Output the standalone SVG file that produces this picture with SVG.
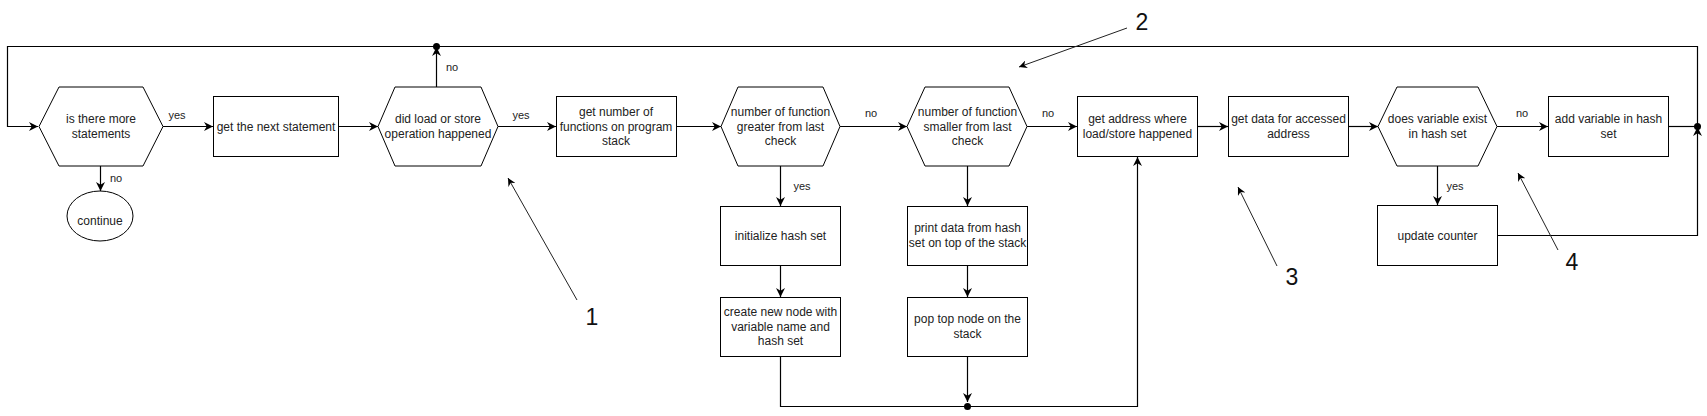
<svg xmlns="http://www.w3.org/2000/svg" width="1707" height="416" viewBox="0 0 1707 416">
<style>
.n{fill:#fff;stroke:#000;stroke-width:1}
.t{font-family:"Liberation Sans",Arial,sans-serif;font-size:12px;fill:#222;text-anchor:middle}
.l{font-family:"Liberation Sans",Arial,sans-serif;font-size:11px;fill:#222;text-anchor:middle}
.num{font-family:"Liberation Sans",Arial,sans-serif;font-size:23px;fill:#111;text-anchor:middle}
.c{fill:none;stroke:#000;stroke-width:1.2}
.a{fill:none;stroke:#222;stroke-width:1}
.d{fill:#000}
</style>
<defs>
<marker id="arr" viewBox="0 0 10 10" refX="10" refY="5" markerWidth="9" markerHeight="9" markerUnits="userSpaceOnUse" orient="auto">
<path d="M0,0 L10,5 L0,10 L3,5 z" fill="#000"/>
</marker>
<marker id="arrS" viewBox="0 0 10 10" refX="10" refY="5" markerWidth="8" markerHeight="8" markerUnits="userSpaceOnUse" orient="auto">
<path d="M0,0 L10,5 L0,10 L3,5 z" fill="#000"/>
</marker>
</defs>
<rect width="1707" height="416" fill="#fff"/>

<g id="connectors">
<polyline class="c" points="1697.5,126.5 1697.5,46.5 7.5,46.5 7.5,126.5 38,126.5" marker-end="url(#arr)"/>
<line class="c" x1="436.5" y1="87" x2="436.5" y2="47" marker-end="url(#arr)"/>
<circle class="d" cx="436.5" cy="46.5" r="3.5"/>
<line class="c" x1="163" y1="126.5" x2="213" y2="126.5" marker-end="url(#arr)"/>
<line class="c" x1="339" y1="126.5" x2="378" y2="126.5" marker-end="url(#arr)"/>
<line class="c" x1="498" y1="126.5" x2="556" y2="126.5" marker-end="url(#arr)"/>
<line class="c" x1="676" y1="126.5" x2="721" y2="126.5" marker-end="url(#arr)"/>
<line class="c" x1="840" y1="126.5" x2="907" y2="126.5" marker-end="url(#arr)"/>
<line class="c" x1="1027" y1="126.5" x2="1077" y2="126.5" marker-end="url(#arr)"/>
<line class="c" x1="1197" y1="126.5" x2="1228" y2="126.5" marker-end="url(#arr)"/>
<line class="c" x1="1348" y1="126.5" x2="1378" y2="126.5" marker-end="url(#arr)"/>
<line class="c" x1="1497" y1="126.5" x2="1548" y2="126.5" marker-end="url(#arr)"/>
<line class="c" x1="1668" y1="126.5" x2="1697.5" y2="126.5"/>
<polyline class="c" points="1497,235.5 1697.5,235.5 1697.5,127" marker-end="url(#arr)"/>
<circle class="d" cx="1697.5" cy="126.5" r="3.5"/>
<line class="c" x1="100.5" y1="166" x2="100.5" y2="191" marker-end="url(#arr)"/>
<line class="c" x1="780.5" y1="166" x2="780.5" y2="206" marker-end="url(#arr)"/>
<line class="c" x1="780.5" y1="265" x2="780.5" y2="297" marker-end="url(#arr)"/>
<line class="c" x1="967.5" y1="166" x2="967.5" y2="206" marker-end="url(#arr)"/>
<line class="c" x1="967.5" y1="265" x2="967.5" y2="297" marker-end="url(#arr)"/>
<line class="c" x1="967.5" y1="356" x2="967.5" y2="402" marker-end="url(#arr)"/>
<polyline class="c" points="780.5,356 780.5,406.5 1137.5,406.5 1137.5,157" marker-end="url(#arr)"/>
<circle class="d" cx="967.5" cy="406.5" r="3.5"/>
<line class="c" x1="1437.5" y1="166" x2="1437.5" y2="205" marker-end="url(#arr)"/>
<line class="a" x1="577" y1="300" x2="508" y2="178" marker-end="url(#arrS)"/>
<line class="a" x1="1127" y1="28" x2="1019" y2="67" marker-end="url(#arrS)"/>
<line class="a" x1="1277" y1="266" x2="1238" y2="187" marker-end="url(#arrS)"/>
<line class="a" x1="1558" y1="250" x2="1518" y2="173" marker-end="url(#arrS)"/>
<text class="l" x="177" y="119">yes</text>
<text class="l" x="116" y="182">no</text>
<text class="l" x="452" y="71">no</text>
<text class="l" x="521" y="119">yes</text>
<text class="l" x="871" y="117">no</text>
<text class="l" x="1048" y="117">no</text>
<text class="l" x="1522" y="117">no</text>
<text class="l" x="802" y="190">yes</text>
<text class="l" x="1455" y="190">yes</text>
<text class="num" x="592" y="325">1</text>
<text class="num" x="1142" y="30">2</text>
<text class="num" x="1292" y="285">3</text>
<text class="num" x="1572" y="270">4</text>
</g>

<g id="hex1"><polygon class="n" points="39,126.5 59,87 143,87 163,126.5 143,166 59,166"/>
<text class="t" x="101" y="123">is there more</text><text class="t" x="101" y="138">statements</text></g>
<g id="continue"><ellipse class="n" cx="100" cy="216" rx="33" ry="25"/>
<text class="t" x="100" y="225">continue</text></g>
<g id="nextStatement"><rect class="n" x="213.5" y="96.5" width="125" height="60"/>
<text class="t" x="276" y="131">get the next statement</text></g>
<g id="hex2"><polygon class="n" points="378,126.5 395,87 481,87 498,126.5 481,166 395,166"/>
<text class="t" x="438" y="123">did load or store</text><text class="t" x="438" y="138">operation happened</text></g>
<g id="numFunctions"><rect class="n" x="556.5" y="96.5" width="120" height="60"/>
<text class="t" x="616" y="116">get number of</text><text class="t" x="616" y="130.5">functions on program</text><text class="t" x="616" y="145">stack</text></g>
<g id="hex3"><polygon class="n" points="721,126.5 738,87 823,87 840,126.5 823,166 738,166"/>
<text class="t" x="780.5" y="116">number of function</text><text class="t" x="780.5" y="130.5">greater from last</text><text class="t" x="780.5" y="145">check</text></g>
<g id="hex4"><polygon class="n" points="907,126.5 925,87 1009,87 1027,126.5 1009,166 925,166"/>
<text class="t" x="967.5" y="116">number of function</text><text class="t" x="967.5" y="130.5">smaller from last</text><text class="t" x="967.5" y="145">check</text></g>
<g id="initHash"><rect class="n" x="720.5" y="206.5" width="120" height="59"/>
<text class="t" x="780.5" y="240">initialize hash set</text></g>
<g id="createNode"><rect class="n" x="720.5" y="297.5" width="120" height="59"/>
<text class="t" x="780.5" y="316">create new node with</text><text class="t" x="780.5" y="330.5">variable name and</text><text class="t" x="780.5" y="345">hash set</text></g>
<g id="printData"><rect class="n" x="907.5" y="206.5" width="120" height="59"/>
<text class="t" x="967.5" y="232">print data from hash</text><text class="t" x="967.5" y="247">set on top of the stack</text></g>
<g id="popNode"><rect class="n" x="907.5" y="297.5" width="120" height="59"/>
<text class="t" x="967.5" y="323">pop top node on the</text><text class="t" x="967.5" y="338">stack</text></g>
<g id="getAddress"><rect class="n" x="1077.5" y="96.5" width="120" height="60"/>
<text class="t" x="1137.5" y="123">get address where</text><text class="t" x="1137.5" y="138">load/store happened</text></g>
<g id="getData"><rect class="n" x="1228.5" y="96.5" width="120" height="60"/>
<text class="t" x="1288.5" y="123">get data for accessed</text><text class="t" x="1288.5" y="138">address</text></g>
<g id="hex5"><polygon class="n" points="1378,126.5 1397,87 1478,87 1497,126.5 1478,166 1397,166"/>
<text class="t" x="1437.5" y="123">does variable exist</text><text class="t" x="1437.5" y="138">in hash set</text></g>
<g id="addVariable"><rect class="n" x="1548.5" y="96.5" width="120" height="60"/>
<text class="t" x="1608.5" y="123">add variable in hash</text><text class="t" x="1608.5" y="138">set</text></g>
<g id="updateCounter"><rect class="n" x="1377.5" y="205.5" width="120" height="60"/>
<text class="t" x="1437.5" y="240">update counter</text></g>
</svg>
